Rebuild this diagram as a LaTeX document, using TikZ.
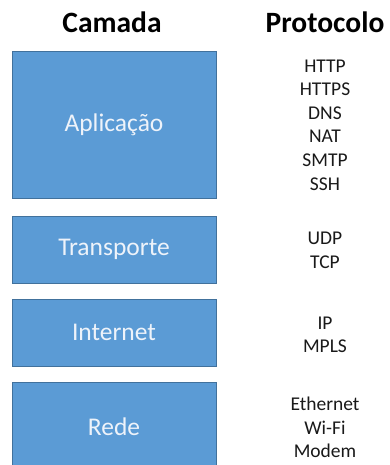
\documentclass[tikz,border=0pt]{standalone}
\usepackage{fontspec}
\setmainfont{Carlito}
\definecolor{layerfill}{HTML}{5B9BD5}
\definecolor{layeredge}{HTML}{41719C}
\definecolor{layertext}{HTML}{EEF3FA}
\begin{document}
\begin{tikzpicture}[x=1pt,y=-1pt,
  header/.style={font=\bfseries\fontsize{29.5}{32}\selectfont, text=black},
  layer/.style={draw=layeredge, line width=0.8pt, fill=layerfill, text=layertext,
    font=\fontsize{25.5}{28}\selectfont, minimum width=204pt, inner sep=0pt},
  protos/.style={align=center, text=black!90, font=\fontsize{19.5}{23.6}\selectfont, inner sep=0pt}]
  \useasboundingbox (0,0) rectangle (389,465);
  \fill[white] (0,0) rectangle (389,465);
  \begin{scope}
    \clip (0,0) rectangle (389,465);
    % column headers
    \node[header] (hcamada) at (112,22.5) {Camada};
    \node[header] (hproto) at (325,22.5) {Protocolo};
    % protocol stack layers
    \node[layer, minimum height=147pt] (aplic) at (114,124.5) {Aplicação};
    \node[layer, minimum height=67pt] (transp) at (114,249.5) {Transporte};
    \node[layer, minimum height=67pt] (inet) at (114,332.5) {Internet};
    \node[layer, minimum height=90pt] (rede) at (114,427) {Rede};
    % protocols of each layer
    \node[protos] (paplic) at (325,125) {HTTP\\HTTPS\\DNS\\NAT\\SMTP\\SSH};
    \node[protos] (ptransp) at (325,250.5) {UDP\\TCP};
    \node[protos] (pinet) at (325,335) {IP\\MPLS};
    \node[protos] (prede) at (325,427.5) {Ethernet\\Wi-Fi\\Modem};
  \end{scope}
\end{tikzpicture}
\end{document}
